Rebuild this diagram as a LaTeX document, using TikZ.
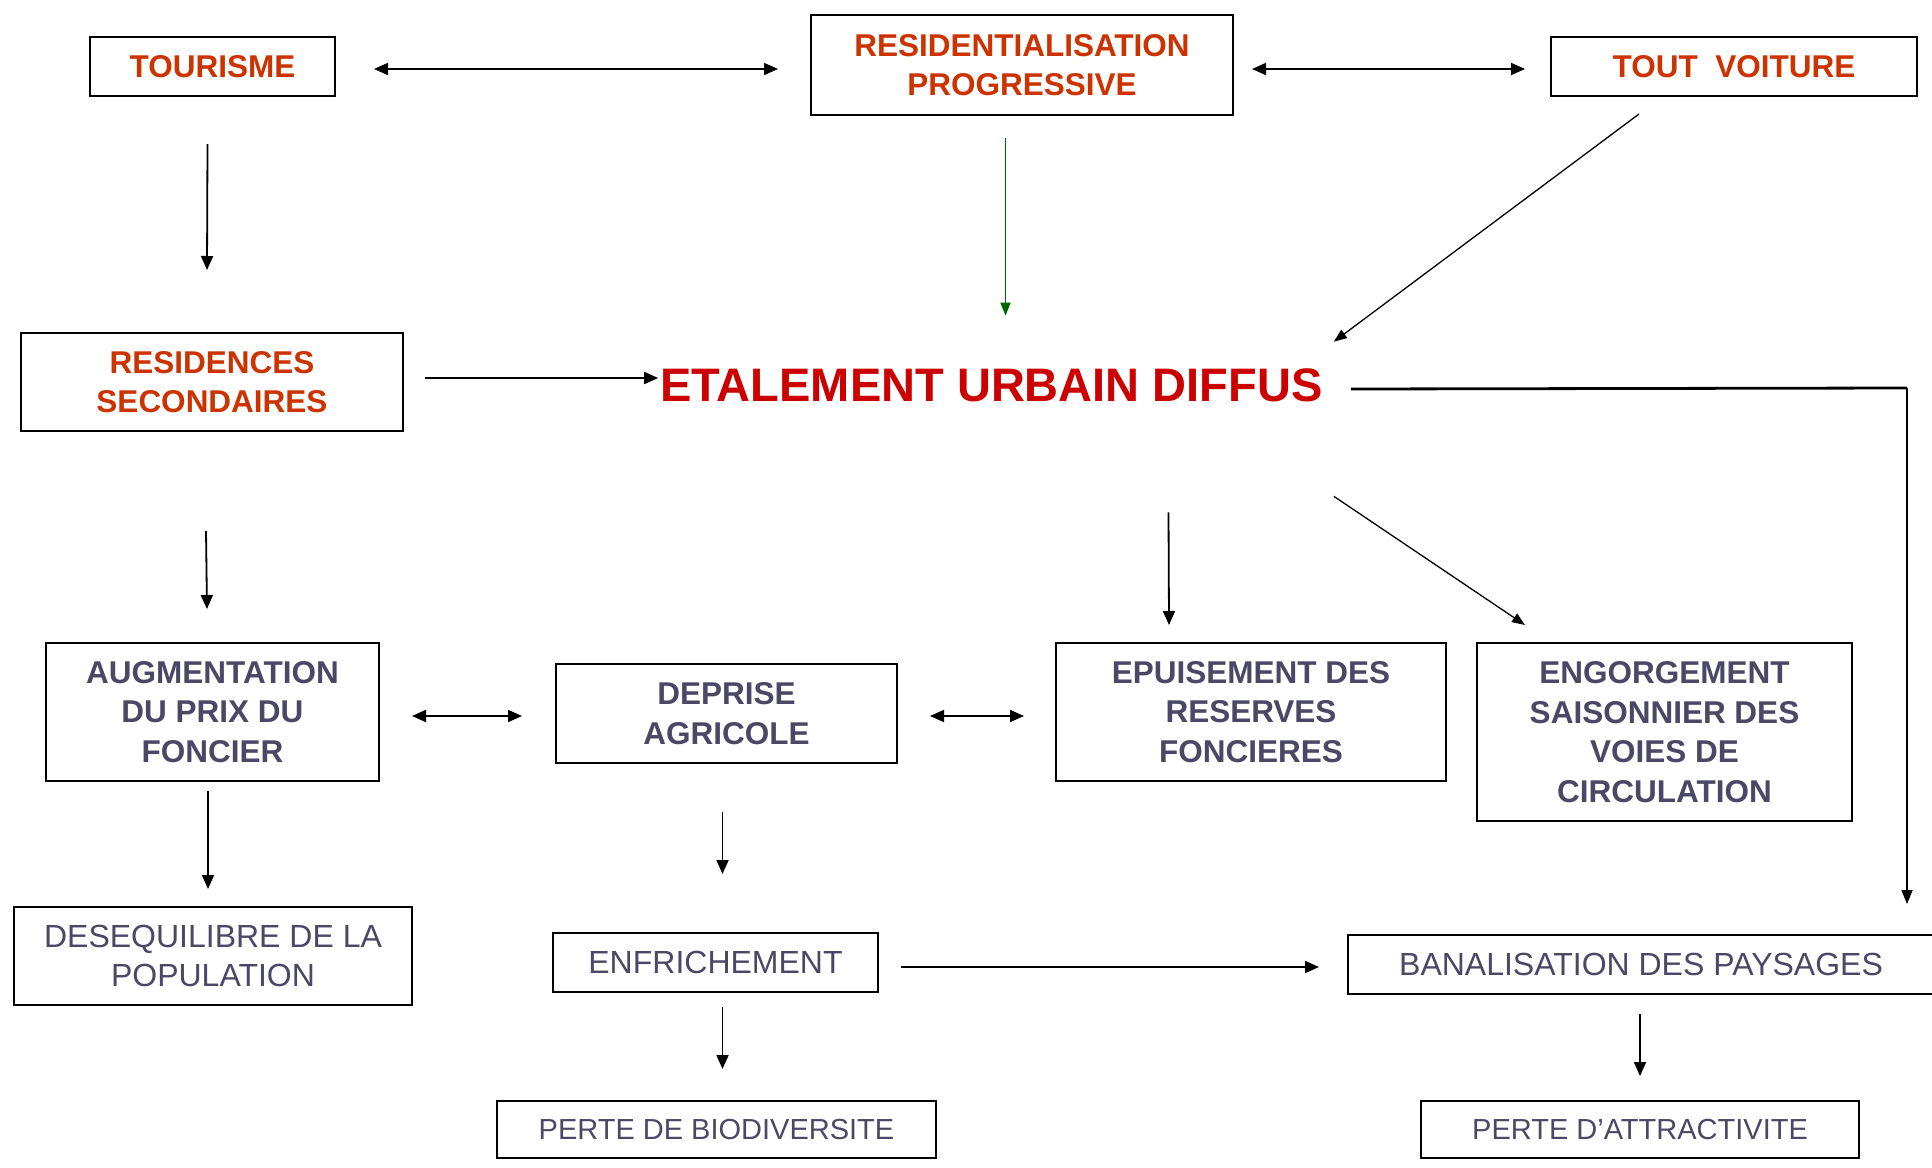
\documentclass[tikz,border=0pt]{standalone}
\usepackage{fontspec}
\setmainfont{Liberation Sans}
\usetikzlibrary{arrows.meta,calc}
\definecolor{orng}{RGB}{204,51,0}
\definecolor{etred}{RGB}{204,0,0}
\definecolor{slate}{RGB}{75,72,102}
\definecolor{dgreen}{RGB}{0,102,0}
\begin{document}
\begin{tikzpicture}[x=1pt,y=-1pt,
 box/.style={draw=black,line width=2pt,inner sep=0pt,align=center},
 otxt/.style={text=orng,font=\fontsize{31.5}{39.5}\selectfont\bfseries},
 gbtxt/.style={text=slate,font=\fontsize{31.5}{39.5}\selectfont\bfseries},
 gtxt/.style={text=slate,font=\fontsize{32}{39}\selectfont},
 stxt/.style={text=slate,font=\fontsize{29}{35}\selectfont},
 arr/.style={line width=1.8pt,-{Triangle[length=14pt,width=12pt]}},
 dbl/.style={line width=1.8pt,{Triangle[length=14pt,width=12pt]}-{Triangle[length=14pt,width=12pt]}},
 thinarr/.style={line width=1.3pt,-{Triangle[length=13pt,width=10pt]}},
]
\path[use as bounding box] (0,0) rectangle (1932,1167);
\fill[white] (0,0) rectangle (1932,1167);
\clip (0,0) rectangle (1932,1167);

% top row
\node[box,otxt,minimum width=245pt,minimum height=59pt] (tour) at (212.5,66.5) {TOURISME};
\node[box,otxt,minimum width=422pt,minimum height=100pt] (resid) at (1022,65) {RESIDENTIALISATION\\PROGRESSIVE};
\node[box,otxt,minimum width=366pt,minimum height=59pt] (tout) at (1734,66.5) {TOUT\ \ VOITURE};

% second row
\node[box,otxt,minimum width=382pt,minimum height=98pt] (ressec) at (212,382) {RESIDENCES\\SECONDAIRES};
\node[inner sep=0pt,text=etred,font=\fontsize{47}{56}\selectfont\bfseries] (etal) at (991.5,385.5) {ETALEMENT URBAIN DIFFUS};

% third row
\node[box,gbtxt,minimum width=333pt,minimum height=138pt] (aug) at (212.5,712) {AUGMENTATION\\DU PRIX DU\\FONCIER};
\node[box,gbtxt,minimum width=341pt,minimum height=99pt] (dep) at (726.5,713.5) {DEPRISE\\AGRICOLE};
\node[box,gbtxt,minimum width=390pt,minimum height=138pt] (epu) at (1251,712) {EPUISEMENT DES\\RESERVES\\FONCIERES};
\node[box,gbtxt,minimum width=375pt,minimum height=178pt] (eng) at (1664.5,732) {ENGORGEMENT\\SAISONNIER DES\\VOIES DE\\CIRCULATION};

% fourth row
\node[box,gtxt,minimum width=398pt,minimum height=98pt] (deseq) at (213,956) {DESEQUILIBRE DE LA\\POPULATION};
\node[box,gtxt,minimum width=325pt,minimum height=59pt] (enf) at (715.5,962.5) {ENFRICHEMENT};
\node[box,gtxt,minimum width=586pt,minimum height=59pt] (ban) at (1641,964.5) {BANALISATION DES PAYSAGES};

% bottom row
\node[box,stxt,minimum width=439pt,minimum height=57pt] (pbio) at (716.5,1129.5) {PERTE DE BIODIVERSITE};
\node[box,stxt,minimum width=438pt,minimum height=57pt] (patt) at (1640,1129.5) {PERTE D’ATTRACTIVITE};

% connectors
\draw[dbl] ($(tour.east)+(38,2.5)$) -- ($(resid.west)+(-32,4)$);
\draw[dbl] ($(resid.east)+(18,4)$) -- ($(tout.west)+(-25,2.5)$);
\draw[arr] ($(tour.south)+(-5,47)$) -- ($(ressec.north)+(-5,-62)$);
\draw[arr] ($(ressec.east)+(21,-4)$) -- ($(etal.west)+(-2,-7.5)$);
\draw[line width=1.5pt,draw=dgreen,-{Triangle[length=13pt,width=10pt]},color=dgreen] ($(resid.south)+(-16.5,22)$) -- ($(etal.north)+(14,-53)$);
\draw[thinarr] ($(tout.south west)+(89,17)$) -- ($(etal.north east)+(11,-27)$);

\coordinate (corner) at ($(ban.north east)+(-28,-546)$);
\coordinate (banin) at ($(ban.north east)+(-28,-30)$);
\draw[line width=2.8pt] ($(etal.east)+(28,3.5)$) -- (corner);
\draw[line width=1.6pt,-{Triangle[length=14pt,width=11pt]}] (corner) -- (banin);

\draw[arr] ($(etal.south)+(177,110)$) -- ($(epu.north)+(-82,-17)$);
\draw[thinarr] ($(etal.south east)+(11,94)$) -- ($(eng.north west)+(49,-17)$);

\draw[arr] ($(ressec.south)+(-6,99)$) -- ($(aug.north)+(-5.5,-33)$);
\draw[dbl] ($(aug.east)+(32,4)$) -- ($(dep.west)+(-33,2.5)$);
\draw[dbl] ($(dep.east)+(32,2.5)$) -- ($(epu.west)+(-31,4)$);

\draw[arr] ($(aug.south)+(-4.5,9)$) -- ($(deseq.north)+(-5,-17)$);
\draw[arr] ($(dep.south)+(-4,48)$) -- ($(enf.north)+(7,-58)$);
\draw[arr] ($(enf.south)+(7,14)$) -- ($(pbio.north)+(6,-31)$);
\draw[arr] ($(enf.east)+(22,4.5)$) -- ($(ban.west)+(-28,2.5)$);
\draw[arr] ($(ban.south)+(-1,19)$) -- ($(patt.north)+(0,-24)$);
\end{tikzpicture}
\end{document}
